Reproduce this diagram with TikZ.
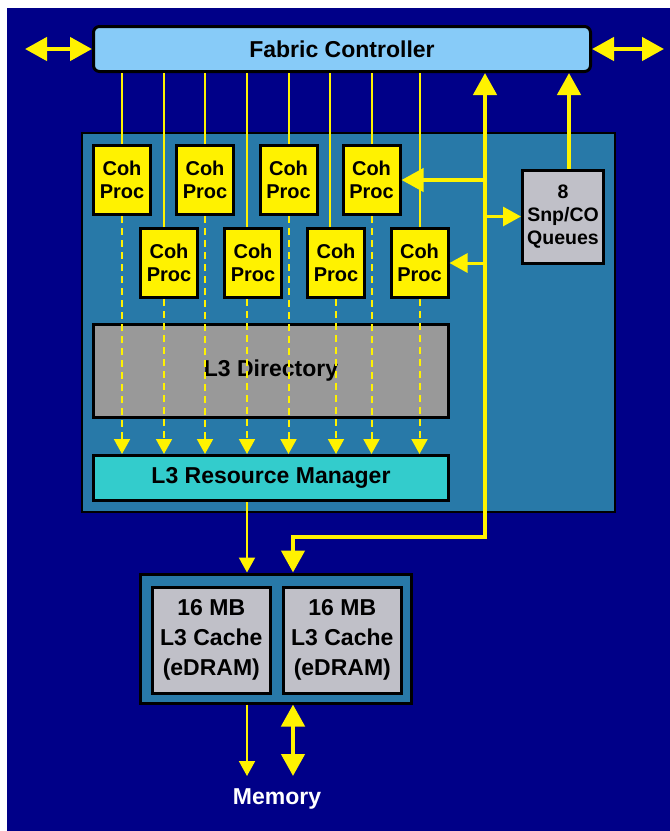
\documentclass[tikz,border=0pt]{standalone}
\usepackage{fontspec}
\setmainfont{Liberation Sans}
\usetikzlibrary{arrows.meta}

\definecolor{navy}{RGB}{0,0,136}
\definecolor{steel}{RGB}{40,121,168}
\definecolor{sky}{RGB}{135,203,248}
\definecolor{silver}{RGB}{192,192,200}
\definecolor{dirgray}{RGB}{153,153,153}
\definecolor{turq}{RGB}{51,204,204}

\begin{document}
\begin{tikzpicture}[x=1pt, y=-1pt,
    every node/.style={draw, line width=3pt, inner sep=0pt, align=center, font=\bfseries\fontsize{23}{30}\selectfont},
    core/.style={fill=steel, line width=2pt},
    fabric/.style={fill=sky, rounded corners=6pt, minimum width=497, minimum height=45},
    coh/.style={fill=yellow, minimum width=57, minimum height=69, font=\bfseries\fontsize{20}{23}\selectfont},
    queue/.style={fill=silver, minimum width=81, minimum height=93, font=\bfseries\fontsize{19.5}{23}\selectfont},
    slice/.style={fill=silver, minimum width=118, minimum height=106},
    bus/.style={yellow, line width=4.5pt, >={Triangle[width=23pt,length=22pt]}},
    tap/.style={yellow, line width=3pt, >={Triangle[width=19pt,length=18pt]}},
    feed/.style={yellow, line width=2pt, >={Triangle[width=16pt,length=15pt]}},
    probe/.style={feed, dash pattern=on 7pt off 5pt}]

    \fill[navy] (7,8) rectangle (670,831);
    \useasboundingbox (0,0) rectangle (670,831);

    \node[core, minimum width=533, minimum height=379] (core) at (348.5,322.5) {};
    \node[fabric] (fab) at (342,49) {Fabric Controller};

    % coherency processors
    \node[coh] (c1) at (122,180) {Coh\\Proc};
    \node[coh] (c2) at (169,263) {Coh\\Proc};
    \node[coh] (c3) at (205,180) {Coh\\Proc};
    \node[coh] (c4) at (253,263) {Coh\\Proc};
    \node[coh] (c5) at (288.5,180) {Coh\\Proc};
    \node[coh] (c6) at (336,263) {Coh\\Proc};
    \node[coh] (c7) at (371.5,180) {Coh\\Proc};
    \node[coh] (c8) at (419.5,263) {Coh\\Proc};

    \node[queue] (q) at (563,216.5) {8\\Snp/CO\\Queues};
    \node[fill=dirgray, minimum width=355, minimum height=93] (dir) at (271,370.5) {L3 Directory};
    \node[fill=turq, minimum width=355, minimum height=45] (rm) at (271,478) {L3 Resource Manager};

    % eDRAM
    \node[core, line width=3pt, minimum width=271, minimum height=129] (cache) at (276,638.5) {};
    \node[slice] (s1) at (211.3,640) {16 MB\\L3 Cache\\(eDRAM)};
    \node[slice] (s2) at (342.3,640) {16 MB\\L3 Cache\\(eDRAM)};
    \node[draw=none, text=white] (mem) at (277,799) {Memory};

    \coordinate (wl) at (25,49);
    \coordinate (wr) at (664,49);
    \coordinate (bus) at (485,537);
    \coordinate (drop) at (293,537);
    \coordinate (rmout) at ([xshift=-24pt]rm.south);
    \coordinate (memout) at (247,776);
    \coordinate (memio) at (293,776);

    \draw[bus, <->] (wl) -- (fab.west);
    \draw[bus, <->] (fab.east) -- (wr);

    \foreach \n in {c1,c3,c5,c7}
        \draw[feed] (fab.south -| \n.north) -- (\n.north);
    \foreach \n/\s in {c2/-5,c4/-6,c6/-6,c8/0}
        \draw[feed] ([xshift=\s pt]\n.north) coordinate (t) -- (t |- fab.south);

    \foreach \n in {c1,c3,c5,c7,c6,c8}
        \draw[probe, ->] (\n.south) -- (rm.north -| \n.south);
    \foreach \n/\s in {c2/-5,c4/-6}
        \draw[probe, ->] ([xshift=\s pt]\n.south) coordinate (t) -- (t |- rm.north);

    \draw[bus, <->] (fab.south -| bus) -- (bus) -- (drop) -- (cache.north -| drop);
    \draw[bus, line width=4pt, ->] (c7.east -| bus) -- (c7.east);
    \draw[tap, ->] (q.west -| bus) -- (q.west);
    \draw[tap, ->] (c8.east -| bus) -- (c8.east);
    \draw[bus, ->] ([xshift=6pt]q.north) coordinate (t) -- (t |- fab.south);

    \draw[feed, ->] (rmout) -- (rmout |- cache.north);
    \draw[feed, ->] (cache.south -| memout) -- (memout);
    \draw[bus, <->] (cache.south -| memio) -- (memio);
\end{tikzpicture}
\end{document}
